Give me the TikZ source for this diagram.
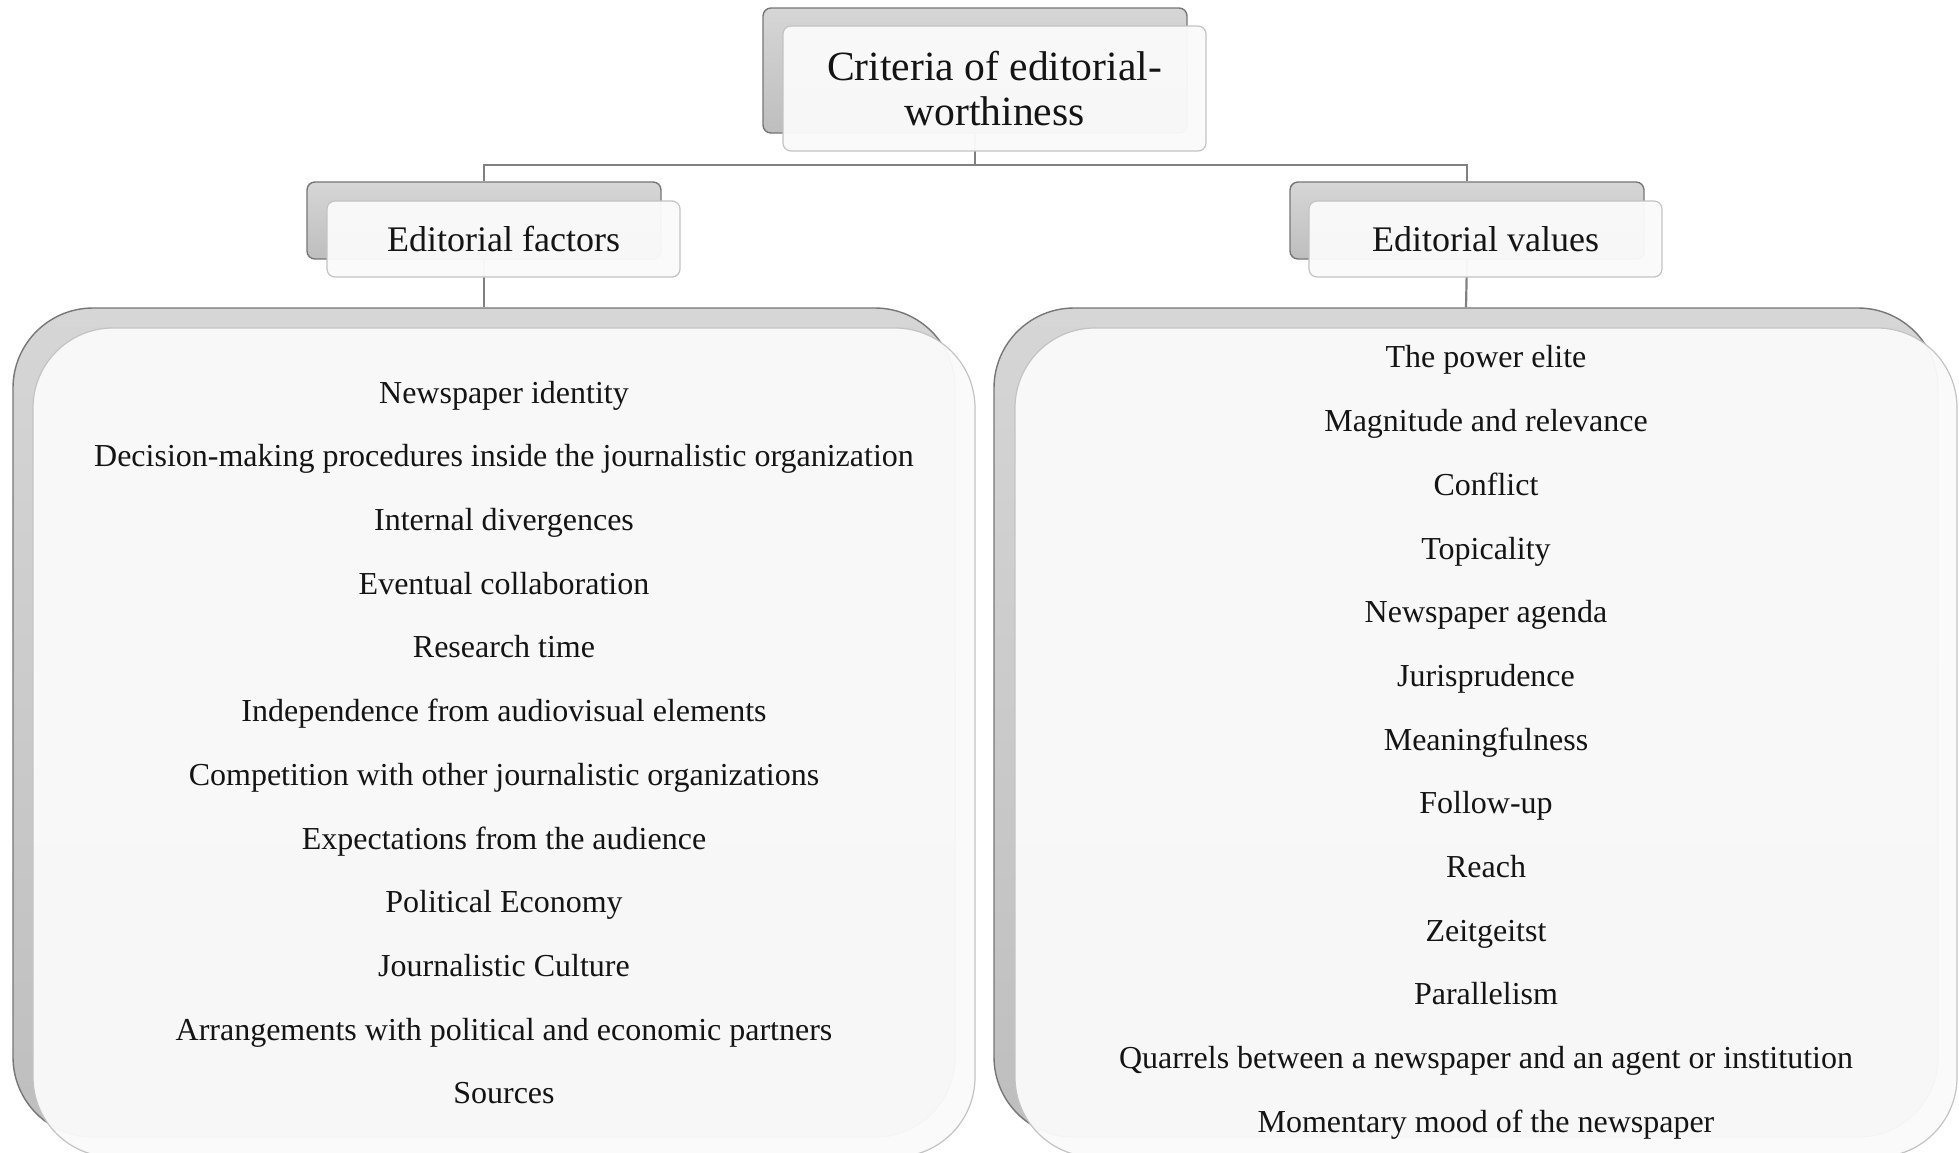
\documentclass[tikz,border=0pt]{standalone}
\usepackage{fontspec}
\setmainfont{Liberation Serif}
\definecolor{backtop}{RGB}{214,214,214}
\definecolor{backbot}{RGB}{190,190,190}
\definecolor{backedge}{RGB}{118,118,118}
\definecolor{frontfill}{RGB}{250,250,250}
\definecolor{frontedge}{RGB}{195,195,195}
\definecolor{linkcol}{RGB}{128,128,128}
\definecolor{txt}{RGB}{20,20,20}
\begin{document}
\begin{tikzpicture}[x=0.5pt,y=-0.5pt,
  backbox/.style={draw=backedge, line width=0.7pt, top color=backtop, bottom color=backbot, inner sep=0pt},
  frontbox/.style={draw=frontedge, line width=0.6pt, fill=frontfill, fill opacity=0.96, text opacity=1, inner sep=0pt, align=center, text=txt},
  smallr/.style={rounded corners=4pt},
  bigr/.style={rounded corners=40pt},
  link/.style={draw=linkcol, line width=1.1pt}]
\clip (0,0) rectangle (1959,1152);
\fill[white] (0,0) rectangle (1959,1152);
% back boxes
\node[backbox, smallr, minimum width=212pt, minimum height=62.5pt] (topb) at (975,70.5) {};
\node[backbox, smallr, minimum width=177pt, minimum height=38.5pt] (lb) at (484,220.5) {};
\node[backbox, smallr, minimum width=177pt, minimum height=38.5pt] (rb) at (1467,220.5) {};
\node[backbox, bigr, minimum width=471pt, minimum height=414.5pt] (lbig) at (484,722.5) {};
\node[backbox, bigr, minimum width=472pt, minimum height=414.5pt] (rbig) at (1466,722.5) {};
% connectors
\coordinate (bus) at (975,165);
\draw[link] (topb.south) -- (bus) -| (lb.north);
\draw[link] (bus) -| (rb.north);
\draw[link] (lb.south) -- (lbig.north);
\draw[link] (rb.south) -- (rbig.north);
% front boxes
\node[frontbox, smallr, minimum width=211.5pt, minimum height=62.5pt, font=\fontsize{20.8}{22.5}\selectfont] (topf) at (994.5,88.5) {Criteria of editorial-\\worthiness};
\node[frontbox, smallr, minimum width=176.5pt, minimum height=38pt, font=\fontsize{18}{21}\selectfont] (lf) at (503.5,239) {Editorial factors};
\node[frontbox, smallr, minimum width=176.5pt, minimum height=38pt, font=\fontsize{18}{21}\selectfont] (rf) at (1485.5,239) {Editorial values};
\node[frontbox, bigr, minimum width=471pt, minimum height=414.5pt, font=\fontsize{16}{31.85}\selectfont] (lbigf) at (504,742.5) {Newspaper identity\\
Decision-making procedures inside the journalistic organization\\
Internal divergences\\
Eventual collaboration\\
Research time\\
Independence from audiovisual elements\\
Competition with other journalistic organizations\\
Expectations from the audience\\
Political Economy\\
Journalistic Culture\\
Arrangements with political and economic partners\\
Sources};
\node[frontbox, bigr, minimum width=471pt, minimum height=414.5pt, font=\fontsize{16}{31.85}\selectfont] (rbigf) at (1486,742.5) {The power elite\\
Magnitude and relevance\\
Conflict\\
Topicality\\
Newspaper agenda\\
Jurisprudence\\
Meaningfulness\\
Follow-up\\
Reach\\
Zeitgeitst\\
Parallelism\\
Quarrels between a newspaper and an agent or institution\\
Momentary mood of the newspaper};
\end{tikzpicture}
\end{document}
